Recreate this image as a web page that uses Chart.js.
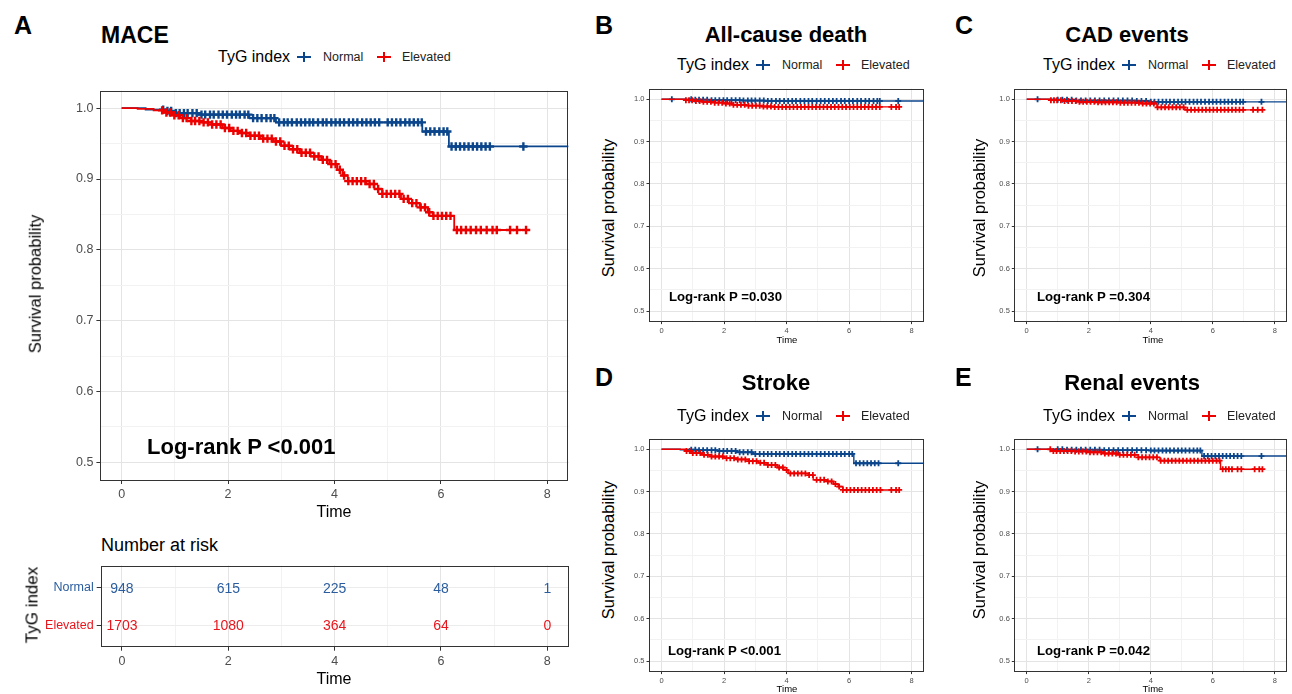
<!DOCTYPE html>
<html><head><meta charset="utf-8">
<script src="https://cdn.jsdelivr.net/npm/chart.js@4/dist/chart.umd.min.js"></script>
<style>
body{margin:0;width:1292px;height:694px;background:#fff;position:relative;overflow:hidden;font-family:"Liberation Sans",Arial,sans-serif;color:#000;}
.t{position:absolute;white-space:nowrap;line-height:1;}
.l{transform:translateY(-50%);}
.c{transform:translate(-50%,-50%);}
.r{transform:translate(-50%,-50%) rotate(-90deg);}
.b{font-weight:bold;}
canvas{position:absolute;}
.key{position:absolute;width:14px;height:10px;transform:translateY(-50%);}
.key i{position:absolute;left:0;top:4px;width:14px;height:2px;background:currentColor;}
.key s{position:absolute;left:6px;top:0;width:2px;height:10px;background:currentColor;}
</style></head>
<body>
<script>
// ---------- data ----------
const groups = ['Normal', 'Elevated'];
const xMajor = [0, 2, 4, 6, 8];
const xMinor = [1, 3, 5, 7];
const yMajor = [0.5, 0.6, 0.7, 0.8, 0.9, 1.0];
const yMinor = [0.55, 0.65, 0.75, 0.85, 0.95];

// A: MACE
const aNormalTime = [0, 0.45, 0.8, 1.0, 1.45, 2.4, 2.9, 5.65, 6.15, 8.4];
const aNormalSurv = [1, 0.998, 0.996, 0.993, 0.991, 0.986, 0.980, 0.967, 0.946, 0.946];
const aElevTime = [0, 0.3, 0.6, 0.8, 0.95, 1.1, 1.3, 1.5, 1.7, 1.9, 2.05, 2.2, 2.4, 2.6, 2.85, 3.0, 3.15, 3.35, 3.55, 3.75, 3.9, 4.05, 4.15, 4.25, 4.6, 4.75, 4.9, 5.25, 5.4, 5.6, 5.75, 5.85, 6.25, 7.6];
const aElevSurv = [1, 0.999, 0.997, 0.994, 0.990, 0.986, 0.982, 0.980, 0.977, 0.972, 0.968, 0.965, 0.961, 0.957, 0.953, 0.947, 0.942, 0.937, 0.932, 0.927, 0.921, 0.913, 0.905, 0.897, 0.893, 0.886, 0.879, 0.872, 0.866, 0.860, 0.853, 0.848, 0.828, 0.828];
const aNormalCens = [0.78,0.86,0.93,1.02,1.09,1.17,1.24,1.33,1.41,1.5,1.57,1.66,1.73,1.82,1.9,1.98,2.07,2.15,2.22,2.31,2.38,2.47,2.55,2.63,2.72,2.8,2.87,2.96,3.05,3.12,3.2,3.29,3.37,3.45,3.53,3.6,3.69,3.78,3.85,3.94,4.02,4.1,4.18,4.27,4.35,4.43,4.52,4.6,4.68,4.76,4.84,5.0,5.08,5.16,5.24,5.33,5.41,5.49,5.57,5.64,5.72,5.8,5.88,5.97,6.05,6.12,6.2,6.28,6.36,6.44,6.52,6.6,6.68,6.76,6.84,6.92,7.55];
const aElevCens = [0.76,0.84,0.91,0.99,1.07,1.15,1.22,1.31,1.38,1.46,1.54,1.62,1.7,1.78,1.86,1.94,2.02,2.1,2.18,2.26,2.34,2.42,2.5,2.58,2.66,2.74,2.82,2.9,2.98,3.06,3.14,3.22,3.3,3.38,3.46,3.54,3.62,3.7,3.78,3.86,3.94,4.02,4.1,4.18,4.26,4.34,4.42,4.5,4.58,4.66,4.74,4.82,4.9,4.98,5.06,5.14,5.22,5.3,5.38,5.46,5.54,5.62,5.7,5.78,5.86,5.94,6.02,6.1,6.18,6.3,6.38,6.47,6.56,6.66,6.75,6.86,6.97,7.05,7.3,7.43,7.6];

// B: All-cause death
const bNormalTime = [0, 1.0, 1.6, 2.6, 3.3, 8.4];
const bNormalSurv = [1, 0.999, 0.998, 0.997, 0.996, 0.996];
const bElevTime = [0, 0.75, 1.0, 1.3, 1.7, 2.0, 2.3, 2.7, 3.2, 3.6, 7.6];
const bElevSurv = [1, 0.998, 0.996, 0.994, 0.992, 0.990, 0.987, 0.985, 0.983, 0.982, 0.982];
const bNormalCens = [0.33,0.95,1.08,1.2,1.33,1.46,1.6,1.72,1.85,1.98,2.1,2.24,2.37,2.5,2.62,2.76,2.88,3.0,3.14,3.27,3.4,3.52,3.66,3.78,3.92,4.05,4.18,4.3,4.44,4.57,4.7,4.82,4.96,5.09,5.22,5.35,5.48,5.6,5.74,5.86,6.0,6.12,6.26,6.38,6.52,6.64,6.78,6.9,6.98,7.57];
const bElevCens = [0.78,0.88,0.98,1.1,1.22,1.34,1.46,1.58,1.7,1.82,1.94,2.06,2.18,2.3,2.42,2.54,2.66,2.78,2.9,3.02,3.14,3.26,3.38,3.5,3.62,3.74,3.86,3.98,4.1,4.22,4.34,4.46,4.58,4.7,4.82,4.94,5.06,5.18,5.3,5.42,5.54,5.66,5.78,5.9,6.02,6.14,6.26,6.38,6.5,6.62,6.74,6.86,6.98,7.35,7.5,7.6];

// C: CAD events
const cNormalTime = [0, 1.0, 1.6, 3.5, 4.0, 8.4];
const cNormalSurv = [1, 0.999, 0.997, 0.996, 0.994, 0.994];
const cElevTime = [0, 0.75, 1.2, 1.7, 2.3, 3.0, 3.7, 4.2, 5.1, 7.6];
const cElevSurv = [1, 0.998, 0.996, 0.994, 0.993, 0.992, 0.990, 0.981, 0.975, 0.975];
const cNormalCens = [0.35,1.0,1.15,1.3,1.45,1.6,1.75,1.9,2.05,2.2,2.35,2.5,2.65,2.8,2.95,3.1,3.25,3.4,3.55,3.7,3.85,4.0,4.12,4.25,4.38,4.5,4.62,4.75,4.88,5.0,5.12,5.25,5.38,5.5,5.62,5.75,5.88,6.0,6.12,6.25,6.38,6.5,6.62,6.75,6.88,6.98,7.57];
const cElevCens = [0.78,0.88,0.98,1.1,1.22,1.34,1.46,1.58,1.7,1.82,1.94,2.06,2.18,2.3,2.42,2.54,2.66,2.78,2.9,3.02,3.14,3.26,3.38,3.5,3.62,3.74,3.86,3.98,4.1,4.22,4.34,4.46,4.58,4.7,4.82,4.94,5.06,5.18,5.3,5.42,5.54,5.66,5.78,5.9,6.02,6.14,6.26,6.38,6.5,6.62,6.74,6.86,6.98,7.3,7.45,7.6];

// D: Stroke
const dNormalTime = [0, 0.6, 1.2, 1.8, 2.4, 2.9, 6.15, 8.4];
const dNormalSurv = [1, 0.999, 0.998, 0.996, 0.993, 0.989, 0.967, 0.967];
const dElevTime = [0, 0.8, 1.0, 1.3, 1.6, 2.0, 2.4, 2.8, 3.1, 3.4, 3.7, 3.9, 4.05, 4.7, 4.85, 5.3, 5.5, 5.65, 5.8, 7.6];
const dElevSurv = [1, 0.996, 0.991, 0.987, 0.983, 0.979, 0.976, 0.972, 0.968, 0.963, 0.957, 0.951, 0.943, 0.939, 0.928, 0.924, 0.918, 0.912, 0.904, 0.904];
const dNormalCens = [0.95,1.08,1.2,1.33,1.46,1.6,1.72,1.85,1.98,2.1,2.24,2.37,2.5,2.62,2.76,2.88,3.0,3.14,3.27,3.4,3.52,3.66,3.78,3.92,4.05,4.18,4.3,4.44,4.57,4.7,4.82,4.96,5.09,5.22,5.35,5.48,5.6,5.74,5.86,6.0,6.1,6.22,6.34,6.46,6.58,6.7,6.82,6.94,7.57];
const dElevCens = [0.8,0.9,1.0,1.12,1.24,1.36,1.48,1.6,1.72,1.84,1.96,2.08,2.2,2.32,2.44,2.56,2.68,2.8,2.92,3.04,3.16,3.28,3.4,3.52,3.64,3.76,3.88,4.0,4.12,4.24,4.36,4.48,4.6,4.72,4.84,4.96,5.08,5.2,5.32,5.44,5.56,5.68,5.8,5.92,6.04,6.16,6.28,6.4,6.52,6.64,6.76,6.88,7.0,7.35,7.5,7.6];

// E: Renal events
const eNormalTime = [0, 1.2, 2.5, 4.0, 5.65, 8.4];
const eNormalSurv = [1, 0.999, 0.998, 0.997, 0.984, 0.984];
const eElevTime = [0, 0.8, 1.5, 2.0, 2.5, 3.0, 3.6, 4.3, 6.25, 7.6];
const eElevSurv = [1, 0.996, 0.995, 0.993, 0.990, 0.987, 0.981, 0.973, 0.953, 0.953];
const eNormalCens = [0.35,1.0,1.15,1.3,1.45,1.6,1.75,1.9,2.05,2.2,2.35,2.5,2.65,2.8,2.95,3.1,3.25,3.4,3.55,3.7,3.85,4.0,4.12,4.25,4.38,4.5,4.62,4.75,4.88,5.0,5.12,5.25,5.38,5.5,5.6,5.72,5.84,5.96,6.08,6.2,6.32,6.44,6.56,6.68,6.8,6.92,7.57];
const eElevCens = [0.76,0.86,0.96,1.08,1.2,1.32,1.44,1.56,1.68,1.8,1.92,2.04,2.16,2.28,2.4,2.52,2.64,2.76,2.88,3.0,3.12,3.24,3.36,3.48,3.6,3.72,3.84,3.96,4.08,4.2,4.32,4.44,4.56,4.68,4.8,4.92,5.04,5.16,5.28,5.4,5.52,5.64,5.76,5.88,6.0,6.12,6.22,6.32,6.42,6.52,6.62,6.8,6.92,7.35,7.5,7.6];

// Number at risk
const riskTimes = [0, 2, 4, 6, 8];
const normalRisk = [948, 615, 225, 48, 1];
const elevRisk = [1703, 1080, 364, 64, 0];

// ---------- helpers ----------
const BLUE = '#0B468C', RED = '#ED0000', F = 'Liberation Sans';
function isIn(arr, v){ return arr.some(a => Math.abs(a - v) < 1e-9); }
function stepAt(times, surv, t){ let v = surv[0]; for (let i = 0; i < times.length; i++){ if (times[i] <= t) v = surv[i]; else break; } return v; }
function pts(times, surv){ return times.map((t, i) => ({x: t, y: surv[i]})); }
function cens(c, times, surv){ return c.map(t => ({x: t, y: stepAt(times, surv, t)})); }

const boxPlugin = {id: 'box', afterDatasetsDraw(chart){
  const {ctx, chartArea: a} = chart; ctx.save(); ctx.strokeStyle = '#333'; ctx.lineWidth = 1;
  ctx.strokeRect(Math.round(a.left) + 0.5, Math.round(a.top) + 0.5, Math.round(a.right - a.left) - 1, Math.round(a.bottom - a.top) - 1);
  ctx.restore(); }};

function mkCanvas(x, y, w, h){
  const cv = document.createElement('canvas'); cv.width = w; cv.height = h;
  cv.style.left = x + 'px'; cv.style.top = y + 'px'; cv.style.width = w + 'px'; cv.style.height = h + 'px';
  document.body.appendChild(cv); return cv;
}

function xScale(p){
  return {type: 'linear', min: -0.4, max: 8.4,
    afterBuildTicks: s => { s.ticks = [...xMajor, ...xMinor].sort((a, b) => a - b).map(v => ({value: v})); },
    afterFit: s => { s.height = p.xh; },
    ticks: {autoSkip: false, maxRotation: 0, minRotation: 0, color: '#4d4d4d', font: {family: F, size: p.fs}, padding: p.tp,
      callback: v => isIn(xMajor, v) ? String(v) : ''},
    grid: {color: c => isIn(xMajor, c.tick.value) ? '#e4e4e4' : '#f2f2f2', lineWidth: 1, drawTicks: true, tickLength: p.tl,
      tickColor: c => isIn(xMajor, c.tick.value) ? '#333' : 'rgba(0,0,0,0)'},
    border: {display: false}};
}

function km(p){
  const cv = mkCanvas(p.x, p.y, p.w, p.h);
  new Chart(cv, {type: 'line',
    data: {datasets: [
      {data: cens(p.eC, p.eT, p.eS), showLine: false, pointStyle: 'cross', pointRadius: p.r, pointBorderWidth: p.cw, borderColor: RED, backgroundColor: RED, order: 0},
      {data: pts(p.eT, p.eS), stepped: 'before', borderColor: RED, borderWidth: p.lw, pointRadius: 0, fill: false, order: 1},
      {data: cens(p.nC, p.nT, p.nS), showLine: false, pointStyle: 'cross', pointRadius: p.r, pointBorderWidth: p.cw, borderColor: BLUE, backgroundColor: BLUE, order: 2},
      {data: pts(p.nT, p.nS), stepped: 'before', borderColor: BLUE, borderWidth: p.lw, pointRadius: 0, fill: false, order: 3}
    ]},
    options: {responsive: false, animation: false, events: [], devicePixelRatio: 1,
      layout: {padding: {top: p.pt, right: p.pr, left: 0, bottom: 0}},
      plugins: {legend: {display: false}, tooltip: {enabled: false}},
      scales: {
        x: xScale(p),
        y: {type: 'linear', min: 0.475, max: 1.025,
          afterBuildTicks: s => { s.ticks = [...yMajor, ...yMinor].sort((a, b) => a - b).map(v => ({value: v})); },
          afterFit: s => { s.width = p.yw; },
          ticks: {autoSkip: false, color: '#4d4d4d', font: {family: F, size: p.fs}, padding: p.tp,
            callback: v => isIn(yMajor, v) ? v.toFixed(1) : ''},
          grid: {color: c => isIn(yMajor, c.tick.value) ? '#e4e4e4' : '#f2f2f2', lineWidth: 1, drawTicks: true, tickLength: p.tl,
            tickColor: c => isIn(yMajor, c.tick.value) ? '#333' : 'rgba(0,0,0,0)'},
          border: {display: false}}
      }},
    plugins: [boxPlugin]});
}

function text(str, x, y, size, cls, color){
  const d = document.createElement('div'); d.className = 't ' + cls; d.textContent = str;
  d.style.left = x + 'px'; d.style.top = y + 'px'; d.style.fontSize = size + 'px';
  if (color) d.style.color = color; document.body.appendChild(d); return d;
}
function key(x, y, color){
  const d = document.createElement('div'); d.className = 'key'; d.style.left = x + 'px'; d.style.top = y + 'px'; d.style.color = color;
  d.innerHTML = '<i></i><s></s>'; document.body.appendChild(d);
}
function legend(x, y){
  text('TyG index', x, y, 16, 'l');
  key(x + 79, y, BLUE);
  text(groups[0], x + 105, y, 12.5, 'l', '#222');
  key(x + 159, y, RED);
  text(groups[1], x + 184, y, 12.5, 'l', '#222');
}
</script>
<script>
// ---------- Panel A ----------
km({x: 40, y: 80, w: 540, h: 430, yw: 60.4, pt: 8.9, pr: 11.4, xh: 30, fs: 12.5, tl: 4, tp: 3, r: 4.2, cw: 2.4, lw: 1.8,
  nT: aNormalTime, nS: aNormalSurv, nC: aNormalCens, eT: aElevTime, eS: aElevSurv, eC: aElevCens});
text('A', 14, 25, 25, 'l b');
text('MACE', 101, 35, 23, 'l b');
legend(218, 57);
text('Survival probability', 35, 284, 16.5, 'r');
text('Time', 334, 512, 16, 'c');
text('Log-rank P <0.001', 147, 447, 22, 'l b');

// ---------- Number at risk ----------
(function(){
  const cv = mkCanvas(40, 555, 540, 139);
  const riskLabels = {id: 'riskLabels', afterDatasetsDraw(chart){
    const ctx = chart.ctx; ctx.save(); ctx.font = '14px "' + F + '"'; ctx.textAlign = 'center'; ctx.textBaseline = 'middle';
    chart.data.datasets.forEach((ds, di) => {
      const meta = chart.getDatasetMeta(di); ctx.fillStyle = ds.labelColor;
      meta.data.forEach((el, i) => ctx.fillText(String(ds.data[i].v), el.x, el.y + 1));
    });
    ctx.restore(); }};
  new Chart(cv, {type: 'line',
    data: {datasets: [
      {data: riskTimes.map((t, i) => ({x: t, y: 2, v: normalRisk[i]})), labelColor: '#2b5d9e', showLine: false, pointRadius: 0},
      {data: riskTimes.map((t, i) => ({x: t, y: 1, v: elevRisk[i]})), labelColor: '#e8161d', showLine: false, pointRadius: 0}
    ]},
    options: {responsive: false, animation: false, events: [], devicePixelRatio: 1,
      layout: {padding: {top: 7.3, right: 11.4, left: 0, bottom: 0}},
      plugins: {legend: {display: false}, tooltip: {enabled: false}},
      scales: {
        x: xScale({xh: 47.3, fs: 12.5, tl: 4, tp: 3}),
        y: {type: 'linear', min: 0.42, max: 2.6,
          afterBuildTicks: s => { s.ticks = [{value: 1}, {value: 2}]; },
          afterFit: s => { s.width = 60.7; },
          ticks: {autoSkip: false, font: {family: F, size: 12.5}, padding: 3,
            color: c => c.tick && c.tick.value === 2 ? '#2b5d9e' : '#e8161d',
            callback: v => v === 2 ? groups[0] : groups[1]},
          grid: {color: '#ececec', lineWidth: 1, drawTicks: true, tickLength: 4, tickColor: '#333'},
          border: {display: false}}
      }},
    plugins: [boxPlugin, riskLabels]});
})();
text('Number at risk', 101, 545, 18, 'l');
text('TyG index', 32, 605, 17, 'r');
text('Time', 334, 679, 16, 'c');

// ---------- Small panels ----------
const small = {w: 310, h: 258, yw: 29, pt: 8.7, pr: 2.3, xh: 16.4, fs: 7.5, tl: 2.5, tp: 2, r: 3, cw: 1.8, lw: 1.4};
km(Object.assign({}, small, {x: 620, y: 80, nT: bNormalTime, nS: bNormalSurv, nC: bNormalCens, eT: bElevTime, eS: bElevSurv, eC: bElevCens}));
km(Object.assign({}, small, {x: 985, y: 80, w: 308, yw: 29.3, pr: 0.3, nT: cNormalTime, nS: cNormalSurv, nC: cNormalCens, eT: cElevTime, eS: cElevSurv, eC: cElevCens}));
km(Object.assign({}, small, {x: 620, y: 430, nT: dNormalTime, nS: dNormalSurv, nC: dNormalCens, eT: dElevTime, eS: dElevSurv, eC: dElevCens}));
km(Object.assign({}, small, {x: 985, y: 430, w: 308, yw: 29.3, pr: 0.3, nT: eNormalTime, nS: eNormalSurv, nC: eNormalCens, eT: eElevTime, eS: eElevSurv, eC: eElevCens}));

text('B', 595, 25, 25, 'l b');
text('All-cause death', 786, 35, 22, 'c b');
legend(677, 65);
text('Survival probability', 608, 208, 16.5, 'r');
text('Time', 787, 340, 9.5, 'c');
text('Log-rank P =0.030', 669, 297, 13.2, 'l b');

text('C', 955, 25, 25, 'l b');
text('CAD events', 1127, 35, 22, 'c b');
legend(1043, 65);
text('Survival probability', 979, 208, 16.5, 'r');
text('Time', 1153, 340, 9.5, 'c');
text('Log-rank P =0.304', 1037, 297, 13.2, 'l b');

text('D', 595, 377, 25, 'l b');
text('Stroke', 776, 383, 22, 'c b');
legend(677, 416);
text('Survival probability', 608, 550, 16.5, 'r');
text('Time', 787, 689, 9.5, 'c');
text('Log-rank P <0.001', 668, 651, 13.2, 'l b');

text('E', 955, 377, 25, 'l b');
text('Renal events', 1132, 383, 22, 'c b');
legend(1043, 416);
text('Survival probability', 979, 550, 16.5, 'r');
text('Time', 1153, 689, 9.5, 'c');
text('Log-rank P =0.042', 1037, 651, 13.2, 'l b');
</script>
</body></html>
